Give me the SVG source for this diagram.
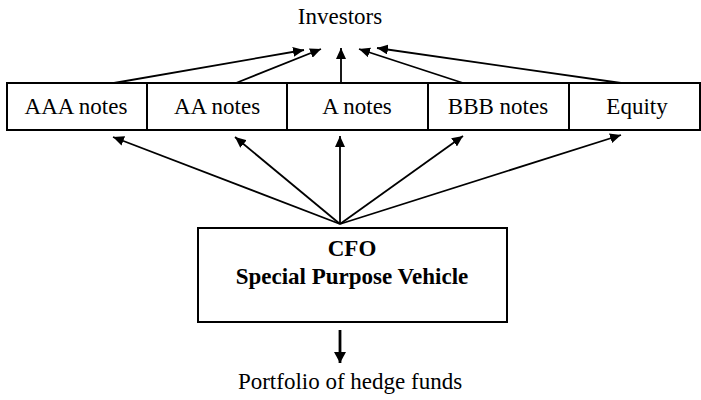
<svg xmlns="http://www.w3.org/2000/svg" width="701" height="400" viewBox="0 0 701 400">
<defs>
<marker id="ah" markerUnits="userSpaceOnUse" markerWidth="12" markerHeight="10" refX="11" refY="5" orient="auto">
<path d="M0,0 L11,5 L0,10 Z" fill="#000"/>
</marker>
<marker id="ahb" markerUnits="userSpaceOnUse" markerWidth="12" markerHeight="12" refX="11" refY="6" orient="auto">
<path d="M0,0 L11,6 L0,12 Z" fill="#000"/>
</marker>
<style>
.t{font-family:"Liberation Serif","Times New Roman",serif;font-size:23px;fill:#000;text-anchor:middle}
.b{font-weight:bold}
.box{fill:#fff;stroke:#000;stroke-width:2}
.c line{stroke:#000;stroke-width:1.8;marker-end:url(#ah)}
</style>
</defs>
<rect width="701" height="400" fill="#fff"/>
<g id="investors"><text class="t" x="340" y="24">Investors</text></g>
<g id="aaa"><rect class="box" x="7" y="83" width="140" height="47"/><text class="t" x="76" y="114">AAA notes</text></g>
<g id="aa"><rect class="box" x="147" y="83" width="140" height="47"/><text class="t" x="217" y="114">AA notes</text></g>
<g id="a"><rect class="box" x="287" y="83" width="141" height="47"/><text class="t" x="357" y="114">A notes</text></g>
<g id="bbb"><rect class="box" x="428" y="83" width="141" height="47"/><text class="t" x="498" y="114">BBB notes</text></g>
<g id="equity"><rect class="box" x="569" y="83" width="131" height="47"/><text class="t" x="637" y="114">Equity</text></g>
<g id="spv"><rect class="box" x="198" y="228" width="309" height="94"/><text class="t b" x="352" y="256">CFO</text><text class="t b" x="352" y="284">Special Purpose Vehicle</text></g>
<g id="portfolio"><text class="t" x="350" y="389">Portfolio of hedge funds</text></g>
<g id="connectors" class="c">
<line x1="114" y1="83" x2="304" y2="50"/>
<line x1="236" y1="83" x2="321" y2="49"/>
<line x1="341" y1="83" x2="341" y2="48"/>
<line x1="463" y1="83" x2="359" y2="49"/>
<line x1="621" y1="83" x2="377" y2="48"/>
<line x1="340" y1="224" x2="113" y2="137"/>
<line x1="340" y1="224" x2="235" y2="137"/>
<line x1="340" y1="224" x2="340" y2="136"/>
<line x1="340" y1="224" x2="463" y2="136"/>
<line x1="340" y1="224" x2="621" y2="135"/>
<line x1="340" y1="330" x2="340" y2="363" style="stroke-width:2.8;marker-end:url(#ahb)"/>
</g>
</svg>
